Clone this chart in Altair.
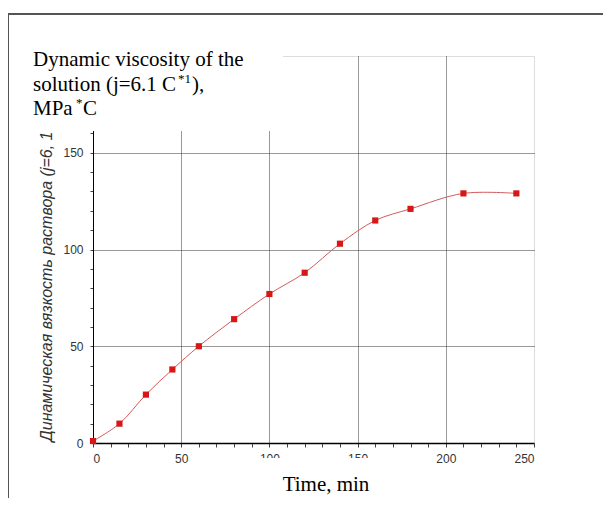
import altair as alt
import pandas as pd

# data
time_min = [0, 15, 30, 45, 60, 80, 100, 120, 140, 160, 180, 210, 240]
viscosity = [1, 10, 25, 38, 50, 64, 77, 88, 103, 115, 121, 129, 129]

title_line1 = "Dynamic viscosity of the"
title_line2 = "solution (j=6.1 C"
title_sup2 = "*1"
title_end2 = "),"
title_line3 = "MPa"
title_sup3 = "*"
title_end3 = "C"
x_title = "Time, min"
y_title = "Динамическая вязкость раствора (j=6, 1 С*1), мПа*С"

x_ticks = list(range(0, 251, 10))
y_ticks = list(range(0, 201, 10))

df = pd.DataFrame({"t": time_min, "v": viscosity})
one = pd.DataFrame({"k": [0]})

xs = alt.Scale(domain=[0, 250], nice=False)
ys = alt.Scale(domain=[0, 200], nice=False)

LABEL_FONT = "Liberation Sans, Arial, sans-serif"
GRID = "#333"

x_axis = alt.Axis(
    values=x_ticks,
    tickCount=100,
    labelExpr="datum.value % 50 === 0 ? datum.label : ''",
    labelOverlap=False,
    title=None,
    domainColor="#000",
    domainWidth=1.5,
    tickColor="#444",
    tickSize=4,
    labelPadding=6,
    labelFont=LABEL_FONT,
    labelFontSize=12,
    labelColor="#333",
    grid=True,
    gridColor=GRID,
    gridDash=[1, 1],
    gridWidth=1,
    gridOpacity={"condition": {"test": "datum.value % 50 === 0 && datum.value > 0 && datum.value < 250", "value": 1}, "value": 0},
)

y_axis = alt.Axis(
    values=y_ticks,
    tickCount=100,
    labelExpr="datum.value % 50 === 0 ? datum.label : ''",
    labelOverlap=False,
    title=y_title,
    titleAngle=270,
    titleAlign="left",
    titleBaseline="alphabetic",
    titleX=-42,
    titleY=385,
    titleFont="Liberation Sans, Arial, sans-serif",
    titleFontStyle="italic",
    titleFontWeight="normal",
    titleFontSize=16,
    titleColor="#333",
    domainColor="#000",
    domainWidth=1,
    tickColor="#444",
    tickSize=3,
    labelPadding=7,
    labelFont=LABEL_FONT,
    labelFontSize=12,
    labelColor="#333",
    grid=True,
    gridColor=GRID,
    gridDash=[1, 1],
    gridWidth=1,
    gridOpacity={"condition": {"test": "datum.value % 50 === 0 && datum.value > 0 && datum.value < 200", "value": 1}, "value": 0},
)

base = alt.Chart(df)

line = base.mark_line(interpolate="catmull-rom", color="#d45a5a", strokeWidth=1).encode(
    x=alt.X("t:Q", scale=xs, axis=x_axis),
    y=alt.Y("v:Q", scale=ys, axis=y_axis),
)
pts = base.mark_point(shape="square", filled=True, color="#d81616", size=38, opacity=1).encode(
    x=alt.X("t:Q", scale=xs),
    y=alt.Y("v:Q", scale=ys),
)

frame = alt.Chart(one).mark_rect(fill=None, stroke="#555", strokeWidth=2).encode(
    x=alt.value(-85), x2=alt.value(620), y=alt.value(-42), y2=alt.value(520)
)
box_top = alt.Chart(one).mark_rect(fill="white", stroke=None).encode(
    x=alt.value(-83), x2=alt.value(190), y=alt.value(-40), y2=alt.value(75)
)
box_bot = alt.Chart(one).mark_rect(fill="white", stroke=None).encode(
    x=alt.value(122), x2=alt.value(327), y=alt.value(402), y2=alt.value(445)
)


def txt(s, x, y, size=21, align="left"):
    return alt.Chart(pd.DataFrame({"s": [s]})).mark_text(
        font="Liberation Serif, Times New Roman, serif",
        fontSize=size,
        align=align,
        baseline="alphabetic",
        color="#000",
    ).encode(x=alt.value(x), y=alt.value(y), text="s:N")


texts = [
    txt(title_line1, -60, 10),
    txt(title_line2, -60, 35),
    txt(title_sup2, 85, 27, size=13),
    txt(title_end2, 99, 35),
    txt(title_line3, -60, 59),
    txt(title_sup3, -17, 51, size=13),
    txt(title_end3, -10, 59),
    txt(x_title, 233, 435, align="center"),
]

chart = alt.layer(frame, line, pts, box_top, box_bot, *texts).properties(
    width=441,
    height=387,
    autosize=alt.AutoSizeParams(type="none"),
    padding={"left": 85, "top": 48, "right": 69, "bottom": 55},
).configure_view(stroke="#aaa", strokeWidth=1.5).configure(background="white")

chart.save("out.html", embed_options={"renderer": "svg", "actions": False})
